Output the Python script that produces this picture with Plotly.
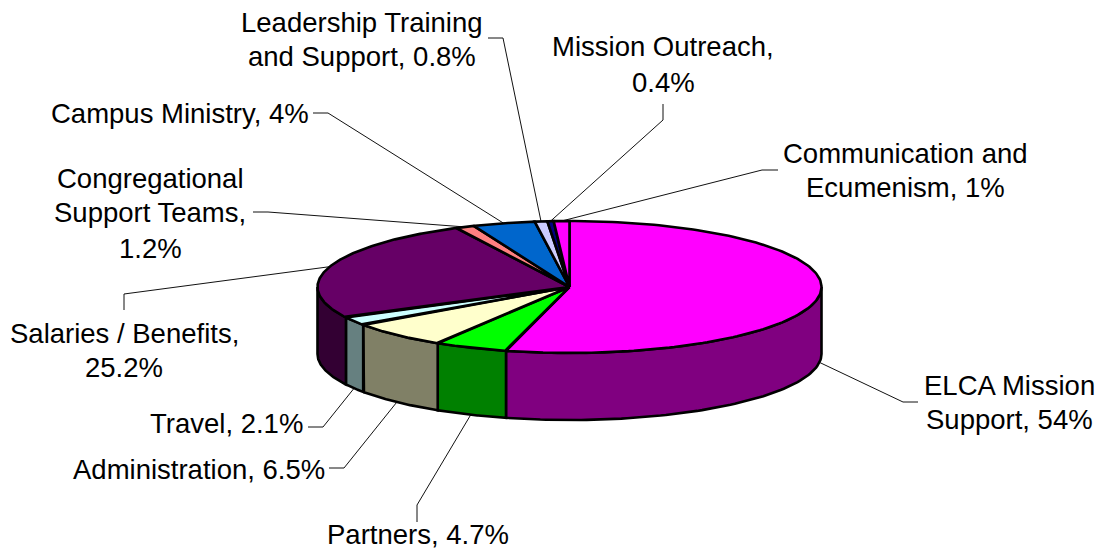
import numpy as np
import plotly.graph_objects as go

categories = ["ELCA Mission Support", "Partners", "Administration", "Travel",
              "Salaries / Benefits", "Congregational Support Teams", "Campus Ministry",
              "Leadership Training and Support", "Mission Outreach",
              "Communication and Ecumenism"]
values = [54, 4.7, 6.5, 2.1, 25.2, 1.2, 4, 0.8, 0.4, 1]
top_colors = ["#FF00FF", "#00FF00", "#FFFFCC", "#CCFFFF", "#660066",
              "#FF8080", "#0066CC", "#CCCCFF", "#000080", "#FF00FF"]
side_colors = ["#800080", "#008000", "#808066", "#668080", "#330033",
               "#803F3F", "#003366", "#666680", "#000040", "#800080"]
label_lines = [["ELCA Mission", "Support, 54%"], ["Partners, 4.7%"], ["Administration, 6.5%"],
               ["Travel, 2.1%"], ["Salaries / Benefits,", "25.2%"],
               ["Congregational", "Support Teams,", "1.2%"], ["Campus Ministry, 4%"],
               ["Leadership Training", "and Support, 0.8%"], ["Mission Outreach,", "0.4%"],
               ["Communication and", "Ecumenism, 1%"]]
label_cx = [1009, 418, 199, 226, 124, 150, 180, 362, 663, 905]
label_cy = [[385, 419], [534], [469], [423], [333, 367], [178, 212, 248], [113], [22, 56], [46, 82], [153, 187]]
leader_outer = [[(918, 402), (903, 402)], [(417, 522), (417, 505)], [(329, 468), (344, 468)],
                [(308, 427), (323, 427)], [(124, 310), (124, 294)], [(253, 212), (268, 212)],
                [(313, 113), (328, 113)], [(488, 38), (503, 38)], [(663, 104), (663, 120)],
                [(778, 170), (762, 170)]]

CX, CY, A, B, DEPTH = 569.5, 287, 252, 66, 67
EDGE = 2.6


def pt(theta, dy=0):
    return CX + A * np.sin(theta), CY - B * np.cos(theta) + dy


total = sum(values)
edges = np.concatenate([[0], np.cumsum(values)]) / total * 2 * np.pi
fig = go.Figure()

# leader lines
for i, outer in enumerate(leader_outer):
    mid = (edges[i] + edges[i + 1]) / 2
    ax, ay = pt(mid, DEPTH if np.cos(mid) < -0.05 or i == 0 else 0)
    xs = [p[0] for p in outer] + [float(ax)]
    ys = [p[1] for p in outer] + [float(ay)]
    fig.add_trace(go.Scatter(x=xs, y=ys, mode="lines", line=dict(color="#111111", width=1),
                             hoverinfo="skip", showlegend=False))

# outer wall: only the front half of the rim is visible
for i in range(len(values)):
    t0, t1 = max(edges[i], np.pi / 2), min(edges[i + 1], 3 * np.pi / 2)
    if t1 <= t0:
        continue
    t = np.linspace(t0, t1, 80)
    x1, y1 = pt(t)
    x2, y2 = pt(t[::-1], DEPTH)
    fig.add_trace(go.Scatter(x=np.r_[x1, x2, x1[0]], y=np.r_[y1, y2, y1[0]], mode="lines",
                             fill="toself", fillcolor=side_colors[i],
                             line=dict(color="black", width=EDGE), hoverinfo="skip",
                             name=categories[i], showlegend=False))

# top face
for i in range(len(values)):
    t = np.linspace(edges[i], edges[i + 1], 160)
    x, y = pt(t)
    fig.add_trace(go.Scatter(x=np.r_[CX, x, CX], y=np.r_[CY, y, CY], mode="lines",
                             fill="toself", fillcolor=top_colors[i],
                             line=dict(color="black", width=EDGE), hoverinfo="text",
                             text=f"{categories[i]}, {values[i]}%", showlegend=False))

annotations = []
for cx, lines, cys in zip(label_cx, label_cy and label_lines, label_cy):
    for line, cy in zip(lines, cys):
        annotations.append(dict(x=cx, y=cy, text=line, showarrow=False, xref="x", yref="y",
                                xanchor="center", yanchor="middle",
                                font=dict(family="Liberation Sans, Arial, sans-serif", size=27.5, color="black")))

fig.update_layout(width=1101, height=550, margin=dict(l=0, r=0, t=0, b=0),
                  paper_bgcolor="white", plot_bgcolor="white", showlegend=False,
                  xaxis=dict(range=[0, 1101], visible=False, fixedrange=True),
                  yaxis=dict(range=[550, 0], visible=False, fixedrange=True),
                  annotations=annotations)
fig.write_html("out.html", config={"displayModeBar": False},
               post_script="document.body.style.margin='0';window.dispatchEvent(new Event('resize'));")
